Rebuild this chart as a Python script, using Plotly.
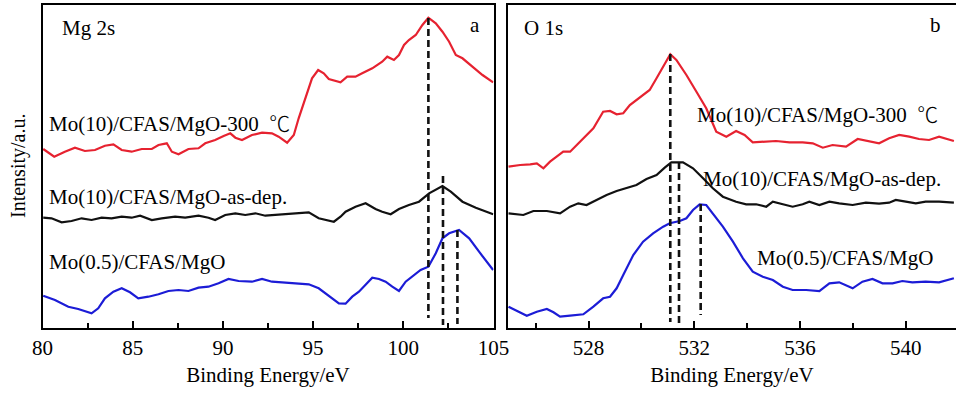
import plotly.graph_objects as go

# ---------------- data (intensity in arbitrary units) -------------
mg_x_red = [80.04, 80.65, 81.24, 81.80, 82.35, 82.91, 83.46, 83.93, 84.39, 84.94, 85.50, 86.06,
            86.43, 86.89, 87.17, 87.54, 88.09, 88.65, 89.02, 89.57, 90.04, 90.41, 90.69, 91.06,
            91.61, 92.17, 92.72, 93.09, 93.56, 93.93, 94.20, 94.57, 94.94, 95.28, 95.59, 95.87,
            96.24, 96.52, 96.89, 97.35, 97.72, 98.28, 98.83, 99.11, 99.48, 99.76, 100.04,
            100.31, 100.69, 101.06, 101.39, 101.80, 102.17, 102.54, 102.91, 103.28, 103.83,
            104.39, 104.98]
mg_y_red = [181, 173.3, 178.3, 182.3, 179, 180, 184.3, 185.7, 180, 178.3, 181, 181,
            185, 186.7, 178.3, 175.7, 181, 181.7, 186.7, 190, 194, 196.7, 192.3, 190,
            195, 197.3, 196.7, 193.3, 187.3, 195, 211.7, 231.7, 251.7, 260, 256.7, 251,
            249, 247.7, 253.3, 253.3, 256.7, 261.7, 268.3, 273.3, 270, 275, 285,
            290, 295, 305, 312.3, 306.7, 298.3, 288.3, 275, 271.7, 263.3,
            255, 247.7]

mg_x_blk = [80.04, 80.50, 81.06, 81.61, 82.17, 82.72, 83.28, 83.83, 84.39, 84.94, 85.41, 86.06,
            86.61, 87.35, 87.91, 88.65, 89.20, 89.57, 90.13, 90.69, 91.24, 91.80, 92.35, 92.91,
            93.65, 94.20, 94.76, 95.31, 95.69, 96.15, 96.52, 96.80, 97.35, 97.91, 98.46, 98.83,
            99.30, 99.76, 100.31, 100.87, 101.43, 101.80, 102.17, 102.63, 103.28, 104.02, 104.98]
mg_y_blk = [112.3, 111.7, 107.7, 109, 111.7, 110, 112.3, 111.7, 113.3, 112.3, 114.3, 110,
            111.7, 113.3, 112.3, 114.3, 112.3, 110, 115, 116.7, 115, 116.7, 114.3, 115,
            115.7, 116.7, 117.7, 111.7, 110, 108.3, 113.3, 118.3, 123.3, 126.7, 121, 118.3,
            115.7, 121, 125, 128.3, 136.7, 140, 144, 138.3, 128.3, 122.3, 115.7]

mg_x_blu = [80.04, 80.69, 81.43, 81.98, 82.72, 83.09, 83.46, 83.93, 84.39, 84.85, 85.31, 85.87,
            86.43, 86.98, 87.54, 88.09, 88.65, 89.20, 89.76, 90.31, 90.87, 91.61, 92.17, 92.72,
            93.28, 94.02, 94.76, 95.31, 95.87, 96.43, 96.80, 97.17, 97.54, 97.91, 98.28, 98.65,
            99.02, 99.39, 99.76, 100.13, 100.50, 100.96, 101.39, 101.80, 102.17, 102.54, 103.09,
            103.65, 104.20, 104.98]
mg_y_blu = [34.3, 30, 23.3, 21, 16.7, 21.7, 31.7, 38.3, 41.7, 37.7, 31.7, 33.3,
            35.7, 39, 40, 39, 42.3, 43.3, 46.7, 51, 49, 48.3, 51, 48.3,
            47.7, 46.7, 45.7, 41.7, 34.3, 26.7, 26.3, 33.3, 38.3, 45.7, 52.3, 51,
            48.3, 43.3, 39, 48.3, 53.3, 60, 63.3, 76.7, 91.7, 96.7, 100,
            91.7, 78.3, 60]

o_x_red = [524.97, 525.41, 525.79, 526.04, 526.29, 526.54, 526.79, 527.04, 527.30, 527.55, 527.80,
           528.18, 528.55, 528.81, 529.06, 529.31, 529.56, 529.81, 530.06, 530.31, 530.57, 530.82,
           531.09, 531.32, 531.70, 532.08, 532.45, 532.83, 533.21, 533.58, 533.90, 534.21, 534.59,
           535.09, 535.60, 536.10, 536.48, 536.86, 537.23, 537.74, 538.18, 538.62, 538.99, 539.37,
           539.75, 540.13, 540.50, 540.88, 541.26, 541.82]
o_y_red = [163.3, 165, 165.7, 166.7, 161.7, 168.3, 173.3, 178.3, 178.3, 185, 191.7,
           201.7, 218.3, 219, 215.7, 216.7, 225, 230, 235.7, 240, 251.7, 263.3,
           275.7, 270, 255, 238.3, 221.7, 198.3, 193.3, 199, 195, 187.7, 188.3,
           189, 187.7, 187.7, 186.7, 182.3, 185, 183.3, 191, 188.3, 186.7, 191.7,
           195, 193.3, 191, 190, 193.3, 189]

o_x_blk = [524.97, 525.53, 525.91, 526.42, 526.92, 527.30, 527.61, 527.92, 528.30, 528.68, 529.06,
           529.43, 529.81, 530.19, 530.57, 530.88, 531.13, 531.57, 531.95, 532.33, 532.70, 533.08,
           533.58, 533.96, 534.34, 534.72, 534.97, 535.35, 535.72, 536.10, 536.35, 536.73, 537.11,
           537.48, 537.99, 538.49, 538.99, 539.37, 539.62, 540.00, 540.38, 540.75, 541.26, 541.82]
o_y_blk = [116.7, 115, 119, 119, 116.7, 123.3, 126.7, 125, 130, 135, 139,
           141.7, 145, 151, 155, 162.3, 167.7, 167.7, 161.7, 151.7, 141.7, 133.3,
           128.3, 125.7, 125.7, 123.3, 128.3, 125.7, 123.3, 125.7, 128.3, 125, 128.3,
           126.7, 125, 127.3, 126.3, 127.3, 130, 128.3, 126.7, 128.3, 128.3, 127.3]

o_x_blu = [524.97, 525.28, 525.66, 526.04, 526.42, 526.67, 526.92, 527.30, 527.80, 528.18, 528.55,
           528.81, 529.06, 529.31, 529.69, 530.06, 530.44, 530.82, 531.07, 531.45, 531.70, 531.95,
           532.20, 532.45, 532.70, 533.08, 533.46, 533.84, 534.21, 534.59, 534.97, 535.35, 535.72,
           536.23, 536.73, 537.11, 537.48, 537.99, 538.36, 538.74, 539.12, 539.50, 539.87, 540.25,
           540.75, 541.26, 541.82]
o_y_blu = [23.3, 19, 14.3, 18.3, 21, 17.7, 13.3, 14.3, 15.7, 23.3, 31.7,
           33.3, 41.7, 55, 75, 88.3, 96.7, 103.3, 106.7, 109, 111.7, 120,
           125.7, 125, 116.7, 103.3, 88.3, 71.7, 58.3, 53.3, 50, 43.3, 40,
           40, 39, 46.7, 47.7, 41.7, 48.3, 51, 46.7, 46.7, 49, 47.7,
           48.3, 47.7, 51.7]

# dashed peak markers: position, top, bottom
mg_peak_x = [101.39, 102.2, 103.0]
mg_peak_top = [312, 154, 100]
mg_peak_bot = [12, 5, 6]
o_peak_x = [531.09, 531.42, 532.24]
o_peak_top = [276, 168, 126]
o_peak_bot = [8, 3, 15]

RED, BLK, BLU = "#e62230", "#111111", "#1c1cd6"
FONT = "Liberation Serif, Times New Roman, serif"

fig = go.Figure()

def add_curve(x, y, color, xa, ya):
    fig.add_trace(go.Scatter(x=x, y=y, mode="lines", line=dict(color=color, width=2.2),
                             xaxis=xa, yaxis=ya, showlegend=False, hoverinfo="skip"))

add_curve(mg_x_red, mg_y_red, RED, "x", "y")
add_curve(mg_x_blk, mg_y_blk, BLK, "x", "y")
add_curve(mg_x_blu, mg_y_blu, BLU, "x", "y")
add_curve(o_x_red, o_y_red, RED, "x2", "y2")
add_curve(o_x_blk, o_y_blk, BLK, "x2", "y2")
add_curve(o_x_blu, o_y_blu, BLU, "x2", "y2")

for px, top, bot in zip(mg_peak_x, mg_peak_top, mg_peak_bot):
    fig.add_trace(go.Scatter(x=[px, px], y=[top, bot], mode="lines",
                             line=dict(color=BLK, width=2.6, dash="7px,4px"),
                             xaxis="x", yaxis="y", showlegend=False, hoverinfo="skip"))
for px, top, bot in zip(o_peak_x, o_peak_top, o_peak_bot):
    fig.add_trace(go.Scatter(x=[px, px], y=[top, bot], mode="lines",
                             line=dict(color=BLK, width=2.6, dash="7px,4px"),
                             xaxis="x2", yaxis="y2", showlegend=False, hoverinfo="skip"))

W, H = 956, 394
axis_common = dict(showgrid=False, zeroline=False, linecolor="black", linewidth=2,
                   ticks="inside", ticklen=7, tickwidth=1.5, tickcolor="black",
                   automargin=False,
                   tickfont=dict(family=FONT, size=21, color="black"),
                   title_font=dict(family=FONT, size=21, color="black"))

fig.update_layout(
    width=W, height=H, margin=dict(l=0, r=0, t=5, b=66, autoexpand=False),
    paper_bgcolor="white", plot_bgcolor="white",
    xaxis=dict(domain=[42.5 / W, 493.5 / W], range=[80, 105], tick0=80, dtick=5,
               showline=True, mirror=True,
               minor=dict(dtick=2.5, tick0=80, ticks="inside", ticklen=5, tickwidth=1.5,
                          tickcolor="black"),
               title=dict(text="Binding Energy/eV", standoff=8), **axis_common),
    yaxis=dict(domain=[0, 1], range=[2, 325], showline=True, mirror=True, linecolor="black",
               linewidth=2, showticklabels=False, ticks="", showgrid=False, zeroline=False,
               automargin=False),
    xaxis2=dict(domain=[508 / W, 1.0], range=[524.95, 541.9], tick0=528, dtick=4,
                showline=True, mirror=True,
                minor=dict(dtick=2, tick0=528, ticks="inside", ticklen=5, tickwidth=1.5,
                           tickcolor="black"),
                title=dict(text="Binding Energy/eV", standoff=8), anchor="y2", **axis_common),
    yaxis2=dict(domain=[0, 1], range=[2, 325], anchor="x2", showline=True, mirror=False,
                linecolor="black", linewidth=2, showticklabels=False, ticks="",
                showgrid=False, zeroline=False, automargin=False),
)

def ann(text, x, y, xref, yref, size=21, xanchor="left", angle=0):
    fig.add_annotation(text=text, x=x, y=y, xref=xref, yref=yref, showarrow=False,
                       xanchor=xanchor, yanchor="middle", textangle=angle, borderpad=0,
                       font=dict(family=FONT, size=size, color="black"))

DEG = "300\u2002<span style=\"font-family:'Noto Sans CJK SC'; font-weight:300\">\u2103</span>"
# left panel labels
ann("Mg 2s", 81.02, 302, "x", "y")
ann("a", 103.96, 305, "x", "y", xanchor="center")
ann("Mo(10)/CFAS/MgO-" + DEG, 80.33, 208, "x", "y")
ann("Mo(10)/CFAS/MgO-as-dep.", 80.33, 133, "x", "y")
ann("Mo(0.5)/CFAS/MgO", 80.33, 68, "x", "y")
# right panel labels
ann("O 1s", 525.51, 302, "x2", "y2")
ann("b", 541.13, 305, "x2", "y2", xanchor="center")
ann("Mo(10)/CFAS/MgO-" + DEG, 532.08, 217.5, "x2", "y2")
ann("Mo(10)/CFAS/MgO-as-dep.", 532.3, 151.5, "x2", "y2")
ann("Mo(0.5)/CFAS/MgO", 534.34, 72, "x2", "y2")
# y-axis title
ann("Intensity/a.u.", 18 / W, 1 - (166 - 5) / 323, "paper", "paper", size=20,
    xanchor="center", angle=-90)

fig.write_html("out.html")
